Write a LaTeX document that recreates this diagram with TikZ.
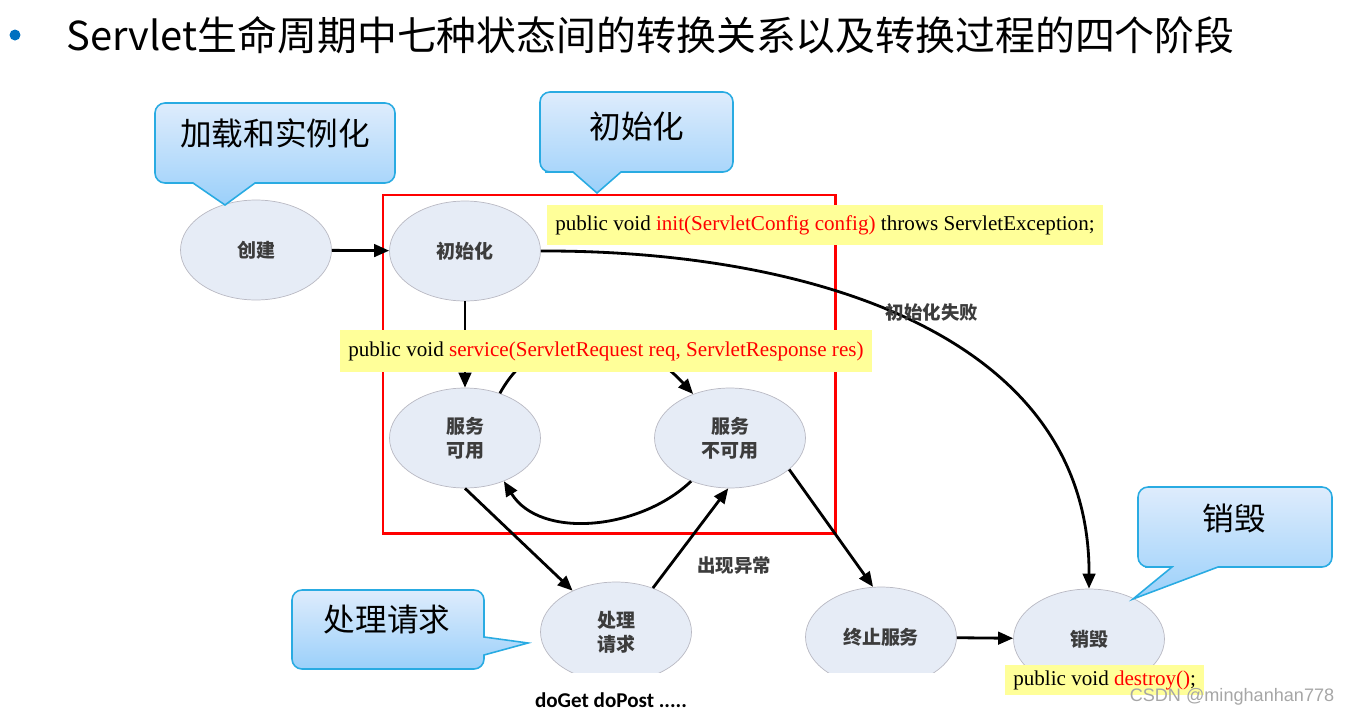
\documentclass[tikz,border=0pt]{standalone}
\usepackage{fontspec}
\setmainfont{Liberation Serif}
\newfontfamily\cjk{Noto Sans CJK SC}
\newfontfamily\carlito{Carlito}
\newfontfamily\wmfont{Liberation Sans}
\usetikzlibrary{arrows.meta,shapes.geometric}
\definecolor{tipblue}{RGB}{41,171,226}
\definecolor{tiptop}{RGB}{222,236,252}
\definecolor{tipbot}{RGB}{155,208,250}
\definecolor{statefill}{RGB}{230,236,246}
\definecolor{stateline}{RGB}{185,185,195}
\definecolor{codeyellow}{RGB}{255,255,153}
\definecolor{dotblue}{RGB}{0,112,192}
\definecolor{labelgray}{RGB}{60,60,60}

\begin{document}
\begin{tikzpicture}[x=0.02cm,y=-0.02cm,
  state/.style={ellipse,draw=stateline,fill=statefill,minimum width=3.02cm,minimum height=2cm,
    inner sep=0pt,align=center,text=labelgray,font=\cjk\bfseries\fontsize{10.8}{13.6}\selectfont},
  flow/.style={-{Triangle[length=0.3cm,width=0.25cm]},line width=1.6pt},
  tip/.style={draw=tipblue,line width=0.9pt,top color=tiptop,bottom color=tipbot,rounded corners=0.2cm},
  tiptext/.style={font=\cjk\fontsize{18}{20}\selectfont},
  code/.style={fill=codeyellow,anchor=west,inner xsep=0.16cm,inner ysep=0pt,font=\fontsize{12}{14}\selectfont},
  note/.style={text=labelgray,font=\cjk\bfseries\fontsize{10.5}{12}\selectfont}]
  \useasboundingbox (0,0) rectangle (1349,717);
  \node[circle,fill=dotblue,minimum size=0.22cm,inner sep=0pt] (dot) at (15,35) {};
  \node[anchor=west,inner sep=0pt,font=\cjk\fontsize{22.7}{26}\selectfont] (title) at (66,35)
    {Servlet生命周期中七种状态间的转换关系以及转换过程的四个阶段};
  \draw[red,line width=1.7pt] (383,195) rectangle (835,533);
  \foreach \n/\x/\y/\t in {create/256/250/创建,init/465/251/初始化,avail/465/438/{服务\\可用},
    unavail/730/438/{服务\\不可用},proc/616/632/{处理\\请求},stop/881/637/终止服务,destroy/1089/639/销毁}
    \node[state] (\n) at (\x,\y) {\t};
  \draw[flow] (create) -- (init);
  \draw[flow] (init) -- (avail);
  \draw[flow] (avail.52) .. controls (540,320) and (630,325) .. (unavail.130);
  \draw[flow] (unavail.228) .. controls (640,530) and (540,540) .. (avail.-48);
  \draw[flow] (avail.south) -- (proc);
  \draw[flow] (proc.50) -- (unavail.-92);
  \draw[flow] (unavail.-28) -- (stop.99);
  \draw[flow] (stop) -- (destroy);
  \draw[flow] (init.east) .. controls (800,250) and (1090,330) .. (destroy.north);
  \node[note] (failtxt) at (932,312) {初始化失败};
  \node[note] (errtxt) at (734,566) {出现异常};
  \fill[white] (480,673) rectangle (1000,717);
  \node[code,minimum height=0.8cm] (initcode) at (547,225)
    {public void \textcolor{red}{init(ServletConfig config)} throws ServletException;};
  \node[code,minimum height=0.84cm] (servcode) at (340,351)
    {public void \textcolor{red}{service(ServletRequest req, ServletResponse res)}};
  \node[code,minimum height=0.6cm] (destcode) at (1005,680) {public void \textcolor{red}{destroy()};};
  \shadedraw[tip] (225,205) [sharp corners] -- (255,183) -- (275,183) [rounded corners=0.2cm] -- (395,183)
    -- (395,103) -- (155,103) -- (155,183) -- (175,183) [sharp corners] -- (193,183) -- cycle;
  \shadedraw[tip] (597,193) [sharp corners] -- (621,172) -- (640,172) [rounded corners=0.2cm] -- (733,172)
    -- (733,92) -- (540,92) -- (540,172) -- (555,172) [sharp corners] -- (573,172) -- cycle;
  \shadedraw[tip] (528,643) [sharp corners] -- (484,655) -- (484,657) [rounded corners=0.2cm] -- (484,669)
    -- (292,669) -- (292,590) -- (484,590) -- (484,625) [sharp corners] -- (484,637) -- cycle;
  \shadedraw[tip] (1133,599) [sharp corners] -- (1218,567) -- (1240,567) [rounded corners=0.2cm] -- (1332,567)
    -- (1332,487) -- (1138,487) -- (1138,567) -- (1155,567) [sharp corners] -- (1172,567) -- cycle;
  \node[tiptext] (tagload) at (275,133) {加载和实例化};
  \node[tiptext] (taginit) at (637,126) {初始化};
  \node[tiptext] (tagproc) at (387,620) {处理请求};
  \node[tiptext] (tagend) at (1234,518) {销毁};
  \node[font=\carlito\bfseries\fontsize{12}{14}\selectfont] (methods) at (611,700) {doGet doPost .....};
  \node[text=black!35,font=\wmfont\fontsize{10.3}{12}\selectfont] (mark) at (1232,697) {CSDN @minghanhan778};
\end{tikzpicture}
\end{document}
